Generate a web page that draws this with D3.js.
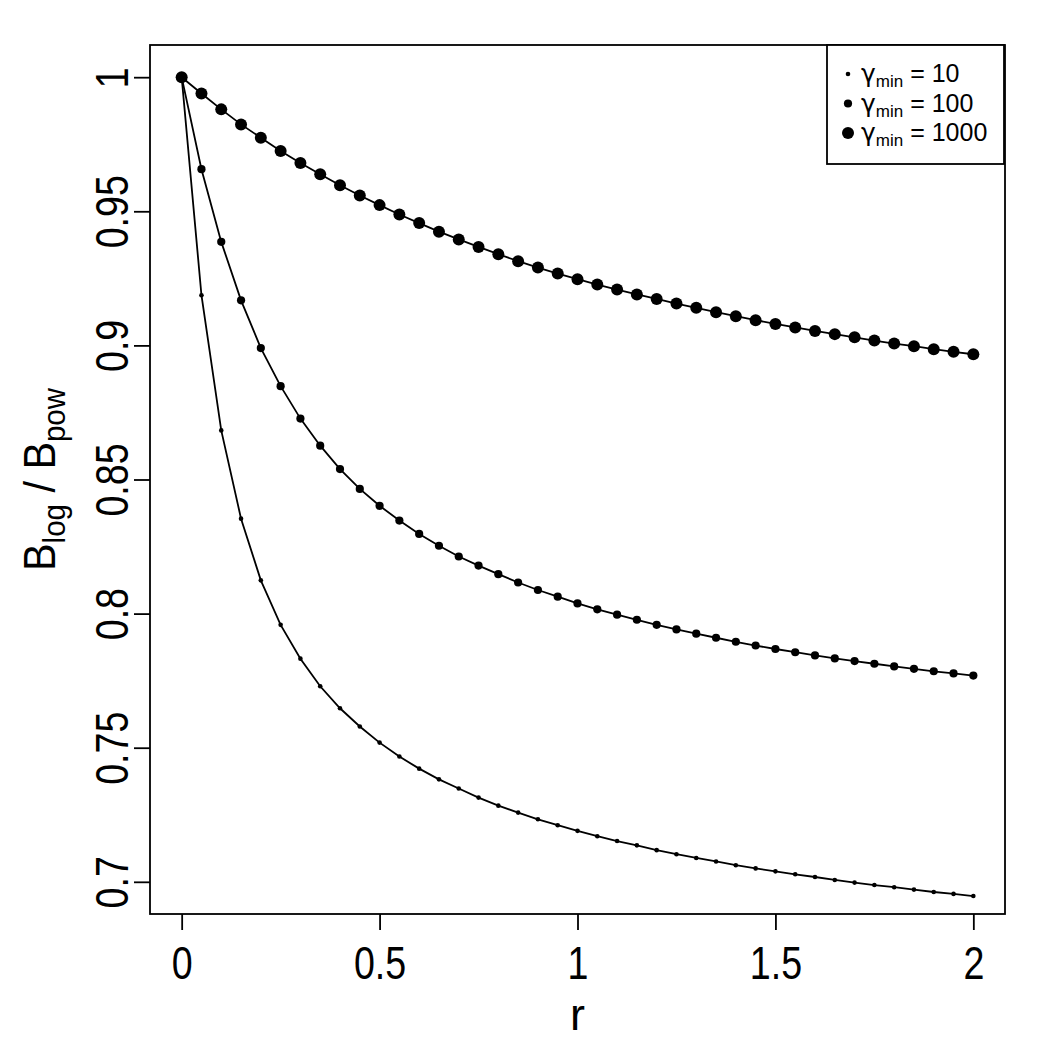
<!DOCTYPE html>
<html>
<head>
<meta charset="utf-8">
<script src="https://cdn.jsdelivr.net/npm/d3@7"></script>
<style>
  body { margin: 0; background: #fff; }
  text { font-family: "Liberation Sans", Arial, sans-serif; fill: #000; }
</style>
</head>
<body>
<div id="grafico"></div>
<script>
// valores
const rValues = [0, 0.05, 0.1, 0.15, 0.2, 0.25, 0.3, 0.35, 0.4, 0.45, 0.5, 0.55, 0.6, 0.65, 0.7, 0.75, 0.8, 0.85, 0.9, 0.95, 1,
  1.05, 1.1, 1.15, 1.2, 1.25, 1.3, 1.35, 1.4, 1.45, 1.5, 1.55, 1.6, 1.65, 1.7, 1.75, 1.8, 1.85, 1.9, 1.95, 2];

const gamma10 = [1, 0.9187, 0.8683, 0.8354, 0.8124, 0.7958, 0.7832, 0.7729, 0.7647, 0.7579, 0.7519, 0.7467, 0.7422, 0.7382,
  0.7348, 0.7314, 0.7284, 0.7258, 0.7233, 0.7211, 0.719, 0.717, 0.7152, 0.7136, 0.7118, 0.7103, 0.7089, 0.7076, 0.7062,
  0.705, 0.7039, 0.7028, 0.7018, 0.7007, 0.6997, 0.6988, 0.698, 0.6971, 0.6962, 0.6955, 0.6947];

const gamma100 = [1, 0.9657, 0.9386, 0.9168, 0.899, 0.8848, 0.8727, 0.8626, 0.8539, 0.8465, 0.8402, 0.8347, 0.8297, 0.8253,
  0.8213, 0.8179, 0.8147, 0.8116, 0.8088, 0.8063, 0.8038, 0.8016, 0.7996, 0.7977, 0.7958, 0.7941, 0.7925, 0.791, 0.7895,
  0.7881, 0.7868, 0.7856, 0.7844, 0.7833, 0.7823, 0.7813, 0.7803, 0.7794, 0.7785, 0.7777, 0.7769];

const gamma1000 = [1, 0.9939, 0.988, 0.9824, 0.9774, 0.9725, 0.968, 0.9638, 0.9597, 0.9559, 0.9523, 0.9488, 0.9456, 0.9424,
  0.9395, 0.9367, 0.934, 0.9314, 0.929, 0.9268, 0.9247, 0.9227, 0.9208, 0.919, 0.9173, 0.9156, 0.914, 0.9124, 0.9109,
  0.9094, 0.908, 0.9067, 0.9054, 0.9042, 0.903, 0.9018, 0.9007, 0.8997, 0.8986, 0.8976, 0.8967];

const legendValues = ["10", "100", "1000"];
const xTicks = [0, 0.5, 1, 1.5, 2];
const yTicks = [0.7, 0.75, 0.8, 0.85, 0.9, 0.95, 1];

const width = 1050;
const height = 1050;
const margin = { top: 45, right: 45, bottom: 136, left: 150 };

const svg = d3
  .select("#grafico")
  .append("svg")
  .attr("width", width)
  .attr("height", height);

// limites como no R (4% de folga)
const x = d3
  .scaleLinear()
  .domain([-0.08, 2.08])
  .range([margin.left, width - margin.right]);

const y = d3
  .scaleLinear()
  .domain([0.688, 1.012])
  .range([height - margin.bottom, margin.top]);

const fmt = (d) => d3.format("")(d);

// eixo x
const xAxis = svg
  .append("g")
  .attr("transform", "translate(0," + (height - margin.bottom) + ")")
  .call(d3.axisBottom(x).tickValues(xTicks).tickSize(16).tickFormat(fmt));

xAxis.select(".domain").remove();
xAxis.selectAll("line").attr("stroke", "#000").attr("stroke-width", 1.8);
xAxis
  .selectAll("text")
  .attr("y", 0)
  .attr("dy", 0)
  .attr("transform", "translate(0,65) scale(0.8,1)")
  .attr("font-size", 47)
  .attr("fill", "#000");

// eixo y
const yAxis = svg
  .append("g")
  .attr("transform", "translate(" + margin.left + ",0)")
  .call(d3.axisLeft(y).tickValues(yTicks).tickSize(16).tickFormat(fmt));

yAxis.select(".domain").remove();
yAxis.selectAll("line").attr("stroke", "#000").attr("stroke-width", 1.8);
yAxis
  .selectAll("text")
  .attr("x", 0)
  .attr("dy", 0)
  .attr("text-anchor", "middle")
  .attr("transform", "translate(-22,0) rotate(-90) scale(0.8,1)")
  .attr("font-size", 47)
  .attr("fill", "#000");

// caixa
svg
  .append("rect")
  .attr("x", margin.left)
  .attr("y", margin.top)
  .attr("width", width - margin.left - margin.right)
  .attr("height", height - margin.top - margin.bottom)
  .attr("fill", "none")
  .attr("stroke", "#000")
  .attr("stroke-width", 1.8);

// titulos
svg
  .append("text")
  .attr("x", (margin.left + width - margin.right) / 2)
  .attr("y", 1030)
  .attr("text-anchor", "middle")
  .attr("font-size", 45)
  .text("r");

const yTitle = svg
  .append("text")
  .attr("text-anchor", "middle")
  .attr("font-size", 45)
  .attr("transform", "translate(55," + (margin.top + height - margin.bottom) / 2 + ") rotate(-90) scale(0.92,1)");

yTitle.append("tspan").text("B");
yTitle.append("tspan").attr("font-size", 32).attr("dy", 10).text("log");
yTitle.append("tspan").attr("dy", -10).text(" / B");
yTitle.append("tspan").attr("font-size", 32).attr("dy", 10).text("pow");

// series
const series = [
  { values: gamma10, radius: 2.3 },
  { values: gamma100, radius: 4.1 },
  { values: gamma1000, radius: 6 },
];

const plotArea = svg.append("g");

const line = d3
  .line()
  .x((d) => x(d[0]))
  .y((d) => y(d[1]));

series.forEach((s) => {
  const pts = rValues.map((r, i) => [r, s.values[i]]);

  plotArea
    .append("path")
    .datum(pts)
    .attr("d", line)
    .attr("fill", "none")
    .attr("stroke", "#000")
    .attr("stroke-width", 1.8);

  plotArea
    .selectAll(null)
    .data(pts)
    .enter()
    .append("circle")
    .attr("cx", (d) => x(d[0]))
    .attr("cy", (d) => y(d[1]))
    .attr("r", s.radius)
    .attr("fill", "#000");
});

// legenda
const legend = svg.append("g").attr("transform", "translate(827,45)");

legend
  .append("rect")
  .attr("width", 177)
  .attr("height", 119)
  .attr("fill", "#fff")
  .attr("stroke", "#000")
  .attr("stroke-width", 1.8);

legendValues.forEach((val, i) => {
  const row = legend.append("g").attr("transform", "translate(0," + (29 + i * 29.5) + ")");

  row
    .append("circle")
    .attr("cx", 21)
    .attr("cy", 0)
    .attr("r", series[i].radius)
    .attr("fill", "#000");

  const t = row
    .append("text")
    .attr("x", 34)
    .attr("y", 8)
    .attr("font-size", 25);

  t.append("tspan").attr("font-family", "DejaVu Sans").text("γ");
  t.append("tspan").attr("font-size", 17).attr("dy", 5).text("min");
  t.append("tspan").attr("dy", -5).text(" = " + val);
});
</script>
</body>
</html>
